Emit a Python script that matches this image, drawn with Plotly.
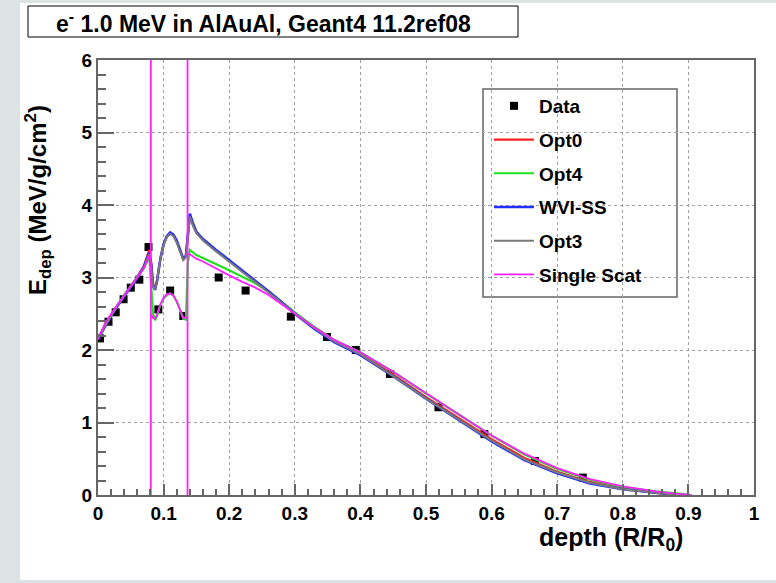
import plotly.graph_objects as go

# ---------------- data ----------------
data_depth = [0.003, 0.016, 0.027, 0.039, 0.050, 0.063, 0.077, 0.092, 0.110, 0.130,
              0.184, 0.225, 0.294, 0.349, 0.393, 0.445, 0.519, 0.589, 0.666, 0.739]
data_edep = [2.16, 2.39, 2.52, 2.70, 2.86, 2.97, 3.42, 2.56, 2.82, 2.47,
             3.00, 2.82, 2.46, 2.18, 2.00, 1.67, 1.21, 0.84, 0.47, 0.24]

depth = [0, 0.01, 0.02, 0.03, 0.04, 0.05, 0.06, 0.07, 0.078, 0.081, 0.084, 0.087, 0.09,
         0.095, 0.10, 0.105, 0.11, 0.115, 0.12, 0.125, 0.13, 0.134, 0.137, 0.14, 0.145,
         0.15, 0.16, 0.17, 0.18, 0.19, 0.20, 0.22, 0.24, 0.26, 0.28, 0.30, 0.33, 0.36,
         0.40, 0.45, 0.50, 0.55, 0.60, 0.65, 0.70, 0.75, 0.80, 0.85, 0.88, 0.90, 0.91]

opt0 = [2.15, 2.33, 2.48, 2.62, 2.75, 2.88, 3.01, 3.16, 3.38, 3.22, 2.92, 2.84, 2.96,
        3.26, 3.46, 3.57, 3.61, 3.58, 3.50, 3.38, 3.26, 3.30, 3.62, 3.85, 3.72,
        3.62, 3.52, 3.44, 3.37, 3.30, 3.23, 3.09, 2.95, 2.81, 2.66, 2.51, 2.31, 2.13,
        1.95, 1.66, 1.35, 1.06, 0.77, 0.51, 0.32, 0.18, 0.09, 0.03, 0.01, None, None]

opt4 = [2.15, 2.34, 2.49, 2.63, 2.76, 2.88, 3.00, 3.13, 3.29, 2.90, 2.50, 2.41, 2.47,
        2.62, 2.71, 2.76, 2.78, 2.75, 2.67, 2.56, 2.43, 2.42, 3.20, 3.38, 3.34,
        3.31, 3.27, 3.23, 3.19, 3.14, 3.10, 3.01, 2.92, 2.81, 2.66, 2.52, 2.32, 2.14,
        1.97, 1.70, 1.40, 1.11, 0.82, 0.56, 0.36, 0.21, 0.11, 0.05, 0.02, 0.005, None]

wvi_ss = [2.15, 2.32, 2.47, 2.61, 2.74, 2.87, 3.00, 3.15, 3.34, 3.18, 2.88, 2.83, 2.95,
          3.25, 3.46, 3.57, 3.62, 3.59, 3.51, 3.38, 3.25, 3.30, 3.62, 3.88, 3.74,
          3.63, 3.53, 3.45, 3.38, 3.31, 3.24, 3.10, 2.96, 2.81, 2.66, 2.50, 2.29, 2.11,
          1.93, 1.64, 1.33, 1.03, 0.74, 0.48, 0.30, 0.16, 0.08, 0.03, 0.005, None, None]

opt3 = [2.15, 2.32, 2.47, 2.61, 2.74, 2.87, 3.00, 3.14, 3.32, 3.16, 2.87, 2.84, 2.96,
        3.25, 3.45, 3.56, 3.60, 3.57, 3.48, 3.35, 3.24, 3.28, 3.60, 3.84, 3.71,
        3.61, 3.51, 3.43, 3.36, 3.29, 3.22, 3.08, 2.94, 2.80, 2.65, 2.50, 2.30, 2.12,
        1.94, 1.64, 1.33, 1.04, 0.75, 0.49, 0.31, 0.17, 0.08, 0.03, 0.005, None, None]

ss_depth = [0, 0.01, 0.02, 0.03, 0.04, 0.05, 0.06, 0.07, 0.078, 0.0805, 0.0805, 0.0805,
            0.0805, 0.084, 0.087, 0.09, 0.095, 0.10, 0.105, 0.11, 0.115, 0.12, 0.125, 0.13,
            0.1345, 0.1365, 0.1365, 0.1365, 0.1365, 0.14, 0.145, 0.15, 0.16, 0.17, 0.18,
            0.19, 0.20, 0.22, 0.24, 0.26, 0.28, 0.30, 0.33, 0.36, 0.40, 0.45, 0.50, 0.55,
            0.60, 0.65, 0.70, 0.75, 0.80, 0.85, 0.88, 0.90, 0.905]
single_scat = [2.15, 2.35, 2.50, 2.63, 2.76, 2.88, 3.00, 3.13, 3.29, 3.25, 8.0, 0.0, 2.5,
               2.44, 2.43, 2.49, 2.63, 2.72, 2.77, 2.78, 2.75, 2.67, 2.56, 2.44,
               2.45, 2.45, 0.0, 8.0, 3.33, 3.32, 3.29, 3.26, 3.22, 3.17, 3.12,
               3.07, 3.03, 2.94, 2.86, 2.76, 2.63, 2.50, 2.31, 2.14, 1.97, 1.70, 1.40, 1.11,
               0.82, 0.57, 0.37, 0.22, 0.12, 0.05, 0.02, 0.005, 0.0]

x_ticks = [0, 0.1, 0.2, 0.3, 0.4, 0.5, 0.6, 0.7, 0.8, 0.9, 1]
x_ticklabels = ["0", "0.1", "0.2", "0.3", "0.4", "0.5", "0.6", "0.7", "0.8", "0.9", "1"]
y_ticks = [0, 1, 2, 3, 4, 5, 6]
y_ticklabels = ["0", "1", "2", "3", "4", "5", "6"]

title_text = "e<sup>-</sup> 1.0 MeV in AlAuAl, Geant4 11.2ref08"
x_title = "depth (R/R<sub>0</sub>)"
y_title = "E<sub>dep</sub> (MeV/g/cm<sup>2</sup>)"

# ---------------- geometry ----------------
W, H = 776, 583
L, R, T, B = 98, 754, 60, 495
PW, PH = R - L, B - T


def px(xp):
    return (xp - L) / PW


def py(yp):
    return (B - yp) / PH


FONT = "Liberation Sans, Arial, Helvetica, sans-serif"

fig = go.Figure()

fig.add_trace(go.Scatter(x=data_depth, y=data_edep, mode="markers", name="Data",
                         marker=dict(symbol="square", size=8, color="black"),
                         legendgroup="g1"))
fig.add_trace(go.Scatter(x=depth, y=opt0, mode="lines", name="Opt0",
                         line=dict(color="#ff2020", width=2.2), legendgroup="g2"))
fig.add_trace(go.Scatter(x=depth, y=opt4, mode="lines", name="Opt4",
                         line=dict(color="#20e020", width=2.2), legendgroup="g3"))
fig.add_trace(go.Scatter(x=depth, y=wvi_ss, mode="lines", name="WVI-SS",
                         line=dict(color="#2030ff", width=2.6), legendgroup="g4"))
fig.add_trace(go.Scatter(x=depth, y=opt3, mode="lines", name="Opt3",
                         line=dict(color="#7a7a7a", width=2), legendgroup="g5"))
fig.add_trace(go.Scatter(x=ss_depth, y=single_scat, mode="lines", name="Single Scat",
                         line=dict(color="#ff20ff", width=1.8), legendgroup="g6"))

axis_common = dict(
    showline=True, linecolor="#666666", linewidth=2, mirror=True,
    ticks="inside", tickcolor="#666666", tickwidth=1.5,
    showgrid=True, gridcolor="#a0a0a0", griddash="dot", gridwidth=1,
    zeroline=False,
    tickfont=dict(family=FONT, size=19, color="black", weight="bold"),
)

fig.update_xaxes(range=[0, 1], tickvals=x_ticks, ticktext=x_ticklabels, ticklen=11,
                 minor=dict(dtick=0.02, ticks="inside", ticklen=6, tickcolor="#666666",
                            showgrid=False),
                 ticklabelstandoff=0, **axis_common)
fig.update_yaxes(range=[0, 6], tickvals=y_ticks, ticktext=y_ticklabels, ticklen=16,
                 minor=dict(dtick=0.2, ticks="inside", ticklen=8, tickcolor="#666666",
                            showgrid=False),
                 ticklabelstandoff=0, **axis_common)

shapes = [
    # grey page strips
    dict(type="rect", xref="paper", yref="paper", x0=px(0), x1=px(20), y0=py(H), y1=py(0),
         fillcolor="#dce3e5", line=dict(width=0), layer="below"),
    dict(type="rect", xref="paper", yref="paper", x0=px(0), x1=px(W), y0=py(3), y1=py(0),
         fillcolor="#dce3e5", line=dict(width=0), layer="below"),
    dict(type="rect", xref="paper", yref="paper", x0=px(0), x1=px(W), y0=py(H), y1=py(580),
         fillcolor="#dce3e5", line=dict(width=0), layer="below"),
    # title box
    dict(type="rect", xref="paper", yref="paper", x0=px(28), x1=px(518), y0=py(37), y1=py(6),
         fillcolor="white", line=dict(color="black", width=1)),
    # legend frame
    dict(type="rect", xref="paper", yref="paper", x0=px(483), x1=px(677), y0=py(297), y1=py(89),
         fillcolor="white", line=dict(color="#666666", width=1.5), layer="below"),
]

annotations = [
    dict(text=title_text, xref="paper", yref="paper", x=px(263), y=py(22),
         xanchor="center", yanchor="middle", showarrow=False,
         font=dict(family=FONT, size=23, color="black", weight="bold")),
    dict(text=y_title, xref="paper", yref="paper", x=px(38), y=py(200), textangle=-90,
         xanchor="center", yanchor="middle", showarrow=False,
         font=dict(family=FONT, size=24, color="black", weight="bold")),
    dict(text=x_title, xref="paper", yref="paper", x=px(685), y=py(521),
         xanchor="right", yanchor="top", showarrow=False,
         font=dict(family=FONT, size=25, color="black", weight="bold")),
]

fig.update_layout(
    width=W, height=H,
    margin=dict(l=L, r=W - R, t=T, b=H - B, pad=0),
    paper_bgcolor="white", plot_bgcolor="white",
    shapes=shapes, annotations=annotations,
    showlegend=True,
    legend=dict(x=px(489), y=py(87), xanchor="left", yanchor="top",
                bgcolor="rgba(0,0,0,0)", borderwidth=0,
                font=dict(family=FONT, size=19, color="black", weight="bold"),
                tracegroupgap=6, itemwidth=40),
)

fig.write_html("out.html")
